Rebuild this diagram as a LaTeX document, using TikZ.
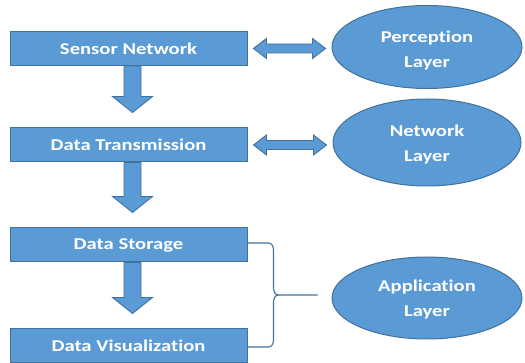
\documentclass[tikz,border=0pt]{standalone}
\usepackage{fontspec}
\usetikzlibrary{calc}
\newfontfamily\lblfont[FakeStretch=1.25, Ligatures=NoCommon]{Carlito}
\definecolor{fillblue}{HTML}{5B9BD5}
\definecolor{edgeblue}{HTML}{41719C}
\tikzset{
  boxnode/.style={draw=edgeblue, fill=fillblue, line width=1pt, minimum width=237pt, minimum height=34pt,
    inner sep=0pt, text=white, font={\lblfont\bfseries\fontsize{16.5}{18}\selectfont}},
  layernode/.style={draw=edgeblue, fill=fillblue, line width=1pt, ellipse},
  layertext/.style={text=white, align=center, font={\lblfont\bfseries\fontsize{16.5}{25}\selectfont}},
  blockarrow/.style={draw=edgeblue, fill=fillblue, line width=0.9pt, line join=miter},
  bracket/.style={draw=edgeblue, line width=1.1pt}
}
\usetikzlibrary{shapes.geometric}
\begin{document}
\begin{tikzpicture}[x=1pt, y=-1pt]
\useasboundingbox (0,0) rectangle (525,363);
% process boxes
\node[boxnode] (b1) at (128.5,48.5) {Sensor Network};
\node[boxnode] (b2) at (128.5,145) {Data Transmission};
\node[boxnode] (b3) at (128.5,245) {Data Storage};
\node[boxnode] (b4) at (128.5,346) {Data Visualization};
% layer ellipses
\node[layernode, minimum width=190pt, minimum height=83pt,
  label={[layertext, yshift=-4pt]center:{Perception\\Layer}}] (pl) at (427,47) {};
\node[layernode, minimum width=188pt, minimum height=87pt,
  label={[layertext, yshift=-2pt]center:{Network\\Layer}}] (nl) at (427,142.5) {};
\node[layernode, minimum width=190pt, minimum height=82pt,
  label={[layertext, yshift=-2pt]center:{Application\\Layer}}] (al) at (427,298) {};
% down arrows
\foreach \a/\b in {b1/b2, b2/b3, b3/b4}{
  \draw[blockarrow] let \p1=($(\a.south)+(4,0)$), \p2=($(\b.north)+(4,-15)$) in
    (\x1-8.5pt,\y1) -- (\x1-8.5pt,\y2+16pt) -- (\x1-20pt,\y2+16pt) -- (\x1,\y2)
    -- (\x1+20pt,\y2+16pt) -- (\x1+8.5pt,\y2+16pt) -- (\x1+8.5pt,\y1) -- cycle;
}
% double arrows
\foreach \a/\b in {b1/pl, b2/nl}{
  \draw[blockarrow] let \p1=($(\a.east)+(6,0)$), \p2=($(\b.west)+(-6,0)$) in
    (\x1,\y1) -- (\x1+13pt,\y1+10pt) -- (\x1+13pt,\y1+4.5pt) -- (\x2-13pt,\y1+4.5pt)
    -- (\x2-13pt,\y1+10pt) -- (\x2,\y1) -- (\x2-13pt,\y1-10pt) -- (\x2-13pt,\y1-4.5pt)
    -- (\x1+13pt,\y1-4.5pt) -- (\x1+13pt,\y1-10pt) -- cycle;
}
% bracket
\coordinate (tip) at ($(al.west)+(-14,-3)$);
\draw[bracket] let \p1=($(b3.east)+(0,-2)$), \p2=($(b4.east)+(0,1)$), \p3=(tip) in
  (\p1) -- (\x1+21pt,\y1) to[out=0,in=90] (\x1+26pt,\y1-7pt) -- (\x1+26pt,\y3+7pt)
  to[out=-90,in=180] (\x1+31pt,\y3) -- (\p3);
\draw[bracket] let \p1=($(b3.east)+(0,-2)$), \p2=($(b4.east)+(0,1)$), \p3=(tip) in
  (\x1+31pt,\y3) to[out=180,in=90] (\x1+26pt,\y3-7pt) -- (\x1+26pt,\y2+7pt)
  to[out=-90,in=0] (\x1+21pt,\y2) -- (\p2);
\end{tikzpicture}
\end{document}
